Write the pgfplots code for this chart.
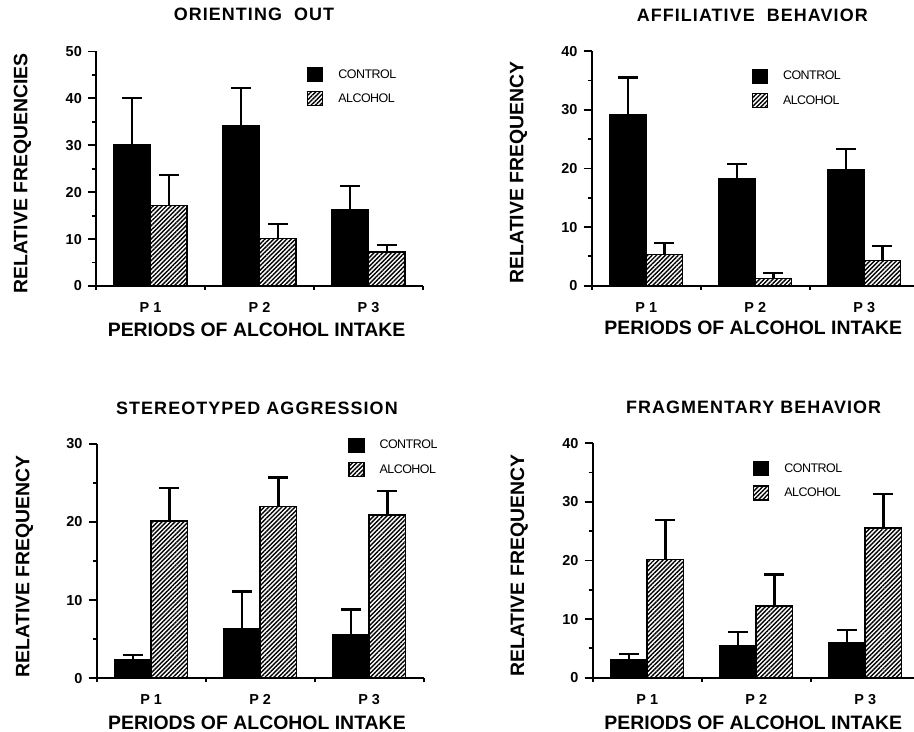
\documentclass[border=0pt]{standalone}
\usepackage{fontspec}
\setmainfont{Liberation Sans}
\usepackage{pgfplots}
\pgfplotsset{compat=1.18}
\usetikzlibrary{patterns.meta}

\newcommand\ttlfont{\fontsize{18}{20}\selectfont\bfseries\addfontfeature{LetterSpace=6}}
\newcommand\labfont{\fontsize{19.5}{22}\selectfont\bfseries}
\newcommand\tickfont{\fontsize{14.5}{16}\selectfont\bfseries}
\newcommand\legfont{\fontsize{12.5}{14}\selectfont\addfontfeature{LetterSpace=-4}}

\pgfplotsset{
  panel/.style={
    scale only axis, width=327bp, height=234.5bp,
    anchor=south west,
    axis lines=left, axis line style={-, line width=2.2bp},
    xmin=0.5, xmax=3.5, ymin=0,
    tick align=outside,
    major tick length=8bp, minor tick length=4bp,
    every tick/.style={black, line width=1.8bp},
    xtick={1,2,3}, xticklabels={P 1,P 2,P 3},
    major x tick style={draw=none},
    minor xtick={0.5,1.5,2.5,3.5},
    /pgf/number format/assume math mode=true,
    yticklabel style={font=\tickfont, inner sep=0pt, anchor=east, xshift=-6bp},
    xticklabel style={font=\tickfont, anchor=base, yshift=-18.5bp},
    xlabel={PERIODS OF ALCOHOL INTAKE},
    xlabel style={font=\labfont, anchor=base},
    ylabel style={font=\labfont, anchor=base},
    title style={font=\ttlfont, anchor=base},
    legend style={draw=none, fill=none, inner sep=0pt, anchor=north west,
      row sep=9bp, column sep=15bp,
      nodes={inner sep=0pt, font=\legfont, anchor=west}},
    legend cell align=left,
  },
  ebars/.style={
    error bars/y dir=plus, error bars/y explicit,
    error bars/error bar style={line width=2.2bp, black},
    error bars/error mark options={rotate=90, line width=2.2bp, mark size=10bp, black}},
  sqleg/.style={legend image code/.code={\draw[##1, line width=1.2bp] (0bp,-7bp) rectangle (15bp,7bp);}},
  ctrl/.style={ybar, bar width=36.5bp, bar shift=0bp, fill=black, draw=black, line width=1.5bp,
    ebars, sqleg},
  alc/.style={ybar, bar width=36.5bp, bar shift=0bp, draw=black, line width=1.5bp,
    pattern={Lines[angle=45, distance=3.1bp, line width=1.4bp]}, pattern color=black,
    ebars, sqleg},
}

\begin{document}
\begin{tikzpicture}
\useasboundingbox (0,0) rectangle (914bp,732bp);

% Control bars sit at group centre - 0.1675, alcohol bars at + 0.1675.
% ---------- Panel 1 ----------
\begin{axis}[panel, at={(96bp,446bp)},
  ymax=50, ytick={0,10,20,30,40,50}, minor ytick={5,15,25,35,45},
  title={ORIENTING\ \ OUT}, title style={at={(axis description cs:0.483,1)}, yshift=25.1bp},
  ylabel={RELATIVE FREQUENCIES}, ylabel style={at={(axis description cs:-0.210,0.48)}},
  xlabel style={at={(axis description cs:0.491,0)}, yshift=-50.7bp},
  legend style={at={(axis description cs:0.645,0.935)}},
]
\addplot[ctrl] coordinates {(0.8325,30.2) +- (0,9.8) (1.8325,34.2) +- (0,8.0) (2.8325,16.3) +- (0,5.1)};
\addplot[alc] coordinates {(1.1675,17.2) +- (0,6.4) (2.1675,10.1) +- (0,3.2) (3.1675,7.2) +- (0,1.6)};
\legend{CONTROL, ALCOHOL}
\end{axis}

% ---------- Panel 2 ----------
\begin{axis}[panel, at={(591.7bp,446.3bp)},
  ymax=40, ytick={0,10,20,30,40}, minor ytick={5,15,25,35},
  title={AFFILIATIVE\ \ BEHAVIOR}, title style={at={(axis description cs:0.491,1)}, yshift=24bp},
  ylabel={RELATIVE FREQUENCY}, ylabel style={at={(axis description cs:-0.209,0.483)}},
  xlabel style={at={(axis description cs:0.494,0)}, yshift=-49.3bp},
  legend style={at={(axis description cs:0.489,0.926)}},
]
\addplot[ctrl] coordinates {(0.8325,29.2) +- (0,6.3) (1.8325,18.2) +- (0,2.6) (2.8325,19.8) +- (0,3.5)};
\addplot[alc] coordinates {(1.1675,5.3) +- (0,2.0) (2.1675,1.2) +- (0,0.9) (3.1675,4.3) +- (0,2.5)};
\legend{CONTROL, ALCOHOL}
\end{axis}

% ---------- Panel 3 ----------
\begin{axis}[panel, at={(96.7bp,53.7bp)},
  ymax=30, ytick={0,10,20,30}, minor ytick={5,15,25},
  title={STEREOTYPED AGGRESSION}, title style={at={(axis description cs:0.490,1)}, yshift=23.3bp},
  ylabel={RELATIVE FREQUENCY}, ylabel style={at={(axis description cs:-0.206,0.478)}},
  xlabel style={at={(axis description cs:0.490,0)}, yshift=-51bp},
  legend style={at={(axis description cs:0.769,1.027)}},
]
\addplot[ctrl] coordinates {(0.8325,2.4) +- (0,0.6) (1.8325,6.3) +- (0,4.8) (2.8325,5.6) +- (0,3.2)};
\addplot[alc] coordinates {(1.1675,20.1) +- (0,4.2) (2.1675,22.0) +- (0,3.7) (3.1675,20.9) +- (0,3.1)};
\legend{CONTROL, ALCOHOL}
\end{axis}

% ---------- Panel 4 ----------
\begin{axis}[panel, at={(592.7bp,54.3bp)},
  ymax=40, ytick={0,10,20,30,40}, minor ytick={5,15,25,35},
  title={FRAGMENTARY BEHAVIOR}, title style={at={(axis description cs:0.492,1)}, yshift=23.3bp},
  ylabel={RELATIVE FREQUENCY}, ylabel style={at={(axis description cs:-0.210,0.477)}},
  xlabel style={at={(axis description cs:0.491,0)}, yshift=-51.6bp},
  legend style={at={(axis description cs:0.490,0.924)}},
]
\addplot[ctrl] coordinates {(0.8325,3.1) +- (0,0.9) (1.8325,5.5) +- (0,2.3) (2.8325,6.0) +- (0,2.2)};
\addplot[alc] coordinates {(1.1675,20.2) +- (0,6.7) (2.1675,12.2) +- (0,5.4) (3.1675,25.5) +- (0,5.9)};
\legend{CONTROL, ALCOHOL}
\end{axis}
\end{tikzpicture}
\end{document}
